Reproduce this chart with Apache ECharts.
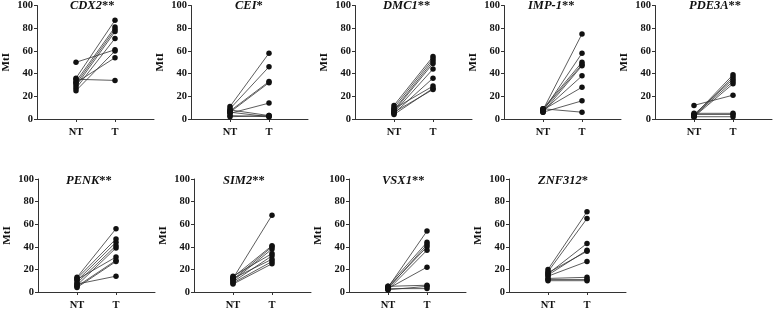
<!DOCTYPE html>
<html>
<head>
<meta charset="utf-8">
<script src="https://cdn.jsdelivr.net/npm/echarts@6/dist/echarts.min.js"></script>
<style>
  html, body { margin: 0; padding: 0; background: #fff; }
  #chart { width: 778px; height: 311px; }
</style>
</head>
<body>
<div id="chart"></div>
<script>
// 每个基因: 配对样本 NT / T 的 MtI 值
var genes = ["CDX2", "CEI", "DMC1", "IMP-1", "PDE3A", "PENK", "SIM2", "VSX1", "ZNF312"];
var stars = ["**", "*", "**", "**", "**", "**", "**", "**", "*"];
var groups = ["NT", "T"];
var yTicks = [0, 20, 40, 60, 80, 100];

var cdx2NT = [50, 35, 36, 33, 31, 29, 27, 25, 32];
var cdx2T = [61, 34, 87, 81, 79, 77, 71, 60, 54];
var ceiNT = [11, 9, 7, 6, 5, 8, 6, 3, 2];
var ceiT = [58, 46, 33, 32, 14, 3, 2, 2, 3];
var dmc1NT = [12, 10, 8, 7, 6, 5, 9, 4, 6];
var dmc1T = [55, 53, 51, 49, 44, 36, 29, 27, 26];
var imp1NT = [8, 7, 9, 8, 6, 7, 8, 6, 9];
var imp1T = [75, 58, 50, 48, 47, 38, 28, 16, 6];
var pde3aNT = [12, 3, 2, 4, 3, 2, 5, 4, 2];
var pde3aT = [21, 39, 37, 35, 33, 31, 5, 4, 2];
var penkNT = [13, 12, 10, 8, 6, 11, 5, 4, 7];
var penkT = [56, 47, 44, 41, 39, 31, 28, 27, 14];
var sim2NT = [12, 13, 11, 10, 14, 9, 12, 8, 7];
var sim2T = [68, 41, 40, 38, 34, 32, 29, 27, 25];
var vsx1NT = [4, 5, 3, 4, 2, 3, 5, 2, 3];
var vsx1T = [54, 44, 42, 40, 37, 22, 6, 5, 3];
var znf312NT = [20, 18, 16, 15, 17, 14, 12, 11, 10];
var znf312T = [71, 65, 43, 37, 36, 27, 13, 11, 10];

var pairs = [
  [cdx2NT, cdx2T], [ceiNT, ceiT], [dmc1NT, dmc1T], [imp1NT, imp1T], [pde3aNT, pde3aT],
  [penkNT, penkT], [sim2NT, sim2T], [vsx1NT, vsx1T], [znf312NT, znf312T]
];

// 布局: 每个小图 y 轴位置 / 标题位置
var gridLeft = [37, 191, 355, 504, 655, 38, 194, 349, 509];
var gridTop = [4, 4, 4, 4, 4, 179, 179, 179, 179];
var titleLeft = [70, 235, 383, 528, 689, 66, 223, 382, 538];

var font = "'Liberation Serif', 'DejaVu Serif', serif";
var axisColor = "#333";

var grid = [], xAxis = [], yAxis = [], title = [], series = [];

genes.forEach(function (g, i) {
  grid.push({ left: gridLeft[i], top: gridTop[i], width: 117, height: 115 });
  title.push({
    text: "{g|" + g + "}{s|" + stars[i] + "}",
    left: titleLeft[i],
    top: gridTop[i] - 5,
    padding: 0,
    textStyle: {
      rich: {
        g: { fontFamily: font, fontSize: 12.5, fontWeight: "bold", fontStyle: "italic", color: "#111" },
        s: { fontFamily: font, fontSize: 12.5, fontWeight: "bold", color: "#111" }
      }
    }
  });
  xAxis.push({
    gridIndex: i,
    type: "value",
    min: 0,
    max: 3,
    interval: 1,
    splitLine: { show: false },
    axisLine: { lineStyle: { color: axisColor, width: 1 } },
    axisTick: { customValues: [1, 2], length: 3, lineStyle: { color: axisColor } },
    axisLabel: {
      customValues: [1, 2],
      margin: 8,
      fontFamily: font,
      fontSize: 10.5,
      fontWeight: "bold",
      color: "#111",
      formatter: function (v) { return groups[v - 1] || ""; }
    }
  });
  yAxis.push({
    gridIndex: i,
    type: "value",
    min: yTicks[0],
    max: yTicks[yTicks.length - 1],
    interval: 20,
    name: "MtI",
    nameLocation: "middle",
    nameGap: 25,
    nameTextStyle: { fontFamily: font, fontSize: 11, fontWeight: "bold", color: "#111" },
    splitLine: { show: false },
    axisLine: { show: true, lineStyle: { color: axisColor, width: 1 } },
    axisTick: { show: true, length: 3, lineStyle: { color: axisColor } },
    axisLabel: { margin: 4, fontFamily: font, fontSize: 10.5, fontWeight: "bold", color: "#111" }
  });
  var nt = pairs[i][0], t = pairs[i][1];
  nt.forEach(function (v, k) {
    series.push({
      type: "line",
      xAxisIndex: i,
      yAxisIndex: i,
      data: [[1, v], [2, t[k]]],
      symbol: "circle",
      symbolSize: 5.5,
      silent: true,
      animation: false,
      itemStyle: { color: "#111" },
      lineStyle: { color: "#333", width: 0.8 }
    });
  });
});

var chart = echarts.init(document.getElementById("chart"));
chart.setOption({
  animation: false,
  title: title,
  grid: grid,
  xAxis: xAxis,
  yAxis: yAxis,
  series: series
});
</script>
</body>
</html>
